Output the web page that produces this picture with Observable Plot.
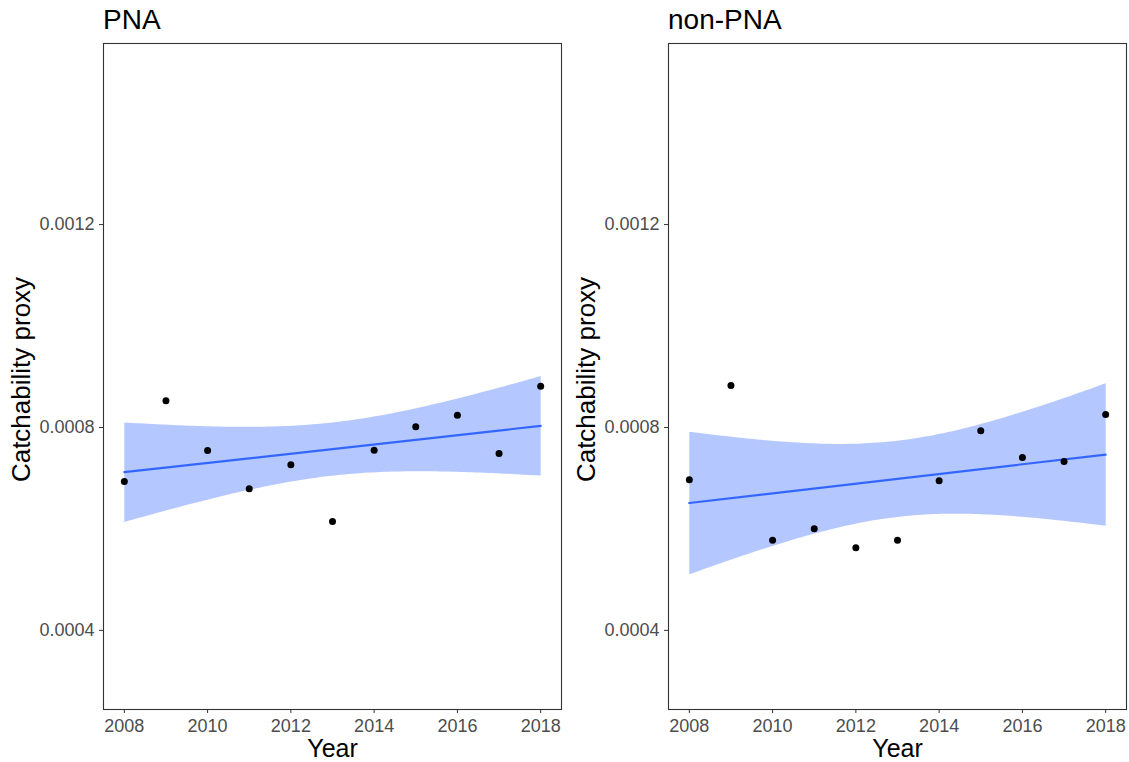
<!DOCTYPE html>
<html>
<head>
<meta charset="utf-8">
<script src="https://cdn.jsdelivr.net/npm/d3@7"></script>
<script src="https://cdn.jsdelivr.net/npm/@observablehq/plot@0.6"></script>
<style>
  html, body { margin: 0; padding: 0; background: #fff; }
  #wrap { position: relative; width: 1129px; height: 762px; font-family: "Liberation Sans", Arial, sans-serif; }
  .panel { position: absolute; top: 0; }
  .title { position: absolute; top: 4px; font-size: 28px; line-height: 32px; color: #000; font-family: "Liberation Sans", Arial, sans-serif; }
</style>
</head>
<body>
<div id="wrap"></div>
<script>
const years = [2008, 2009, 2010, 2011, 2012, 2013, 2014, 2015, 2016, 2017, 2018];
const pnaValues = [0.0006936, 0.0008526, 0.0007547, 0.0006792, 0.0007265, 0.0006148, 0.0007553, 0.0008014, 0.0008242, 0.0007488, 0.0008814];
const nonPnaValues = [0.0006970, 0.0008828, 0.0005779, 0.0006004, 0.0005630, 0.0005779, 0.0006950, 0.0007935, 0.0007409, 0.0007330, 0.0008256];
const panelTitles = ["PNA", "non-PNA"];
const xTicks = [2008, 2010, 2012, 2014, 2016, 2018];
const yTicks = [0.0004, 0.0008, 0.0012];
const yLabel = "Catchability proxy";
const xLabel = "Year";

const wrap = document.getElementById("wrap");

function makePanel(values, title, left, width, marginRight) {
  const data = years.map((y, i) => ({year: y, value: values[i]}));
  const chart = Plot.plot({
    width: width,
    height: 762,
    marginLeft: 103,
    marginRight: marginRight,
    marginTop: 43,
    marginBottom: 53,
    style: {fontFamily: "'Liberation Sans', Arial, sans-serif", fontSize: "18px", color: "#333", background: "#fff"},
    x: {domain: [2007.5, 2018.5]},
    y: {domain: [0.000244, 0.001557]},
    marks: [
      Plot.linearRegressionY(data, {x: "year", y: "value", stroke: "#3366FF", strokeWidth: 2.2, fill: "#3366FF", fillOpacity: 0.37, ci: 0.95}),
      Plot.dot(data, {x: "year", y: "value", r: 3.5, fill: "#000", stroke: "none"}),
      Plot.frame({stroke: "#333", strokeWidth: 1.1}),
      Plot.axisX({ticks: xTicks, tickFormat: d => String(d), tickSize: 4, tickPadding: 6, label: null, stroke: "#333", fill: "#4d4d4d", fontSize: 18}),
      Plot.axisY({ticks: yTicks, tickFormat: d => d.toFixed(4), tickSize: 4, tickPadding: 5, label: null, stroke: "#333", fill: "#4d4d4d", fontSize: 18}),
      Plot.text([yLabel], {text: d => d, frameAnchor: "left", textAnchor: "middle", lineAnchor: "middle", dx: -82, dy: 3, rotate: -90, fontSize: 26, fill: "#000"}),
      Plot.text([xLabel], {text: d => d, frameAnchor: "bottom", textAnchor: "middle", lineAnchor: "middle", dy: 39, fontSize: 25, fill: "#000"})
    ]
  });
  const div = document.createElement("div");
  div.className = "panel";
  div.style.left = left + "px";
  div.appendChild(chart);
  wrap.appendChild(div);
  const t = document.createElement("div");
  t.className = "title";
  t.style.left = (left + 103) + "px";
  t.textContent = title;
  wrap.appendChild(t);
}

makePanel(pnaValues, panelTitles[0], 0, 565, 4);
makePanel(nonPnaValues, panelTitles[1], 565, 564, 3);
</script>
</body>
</html>
